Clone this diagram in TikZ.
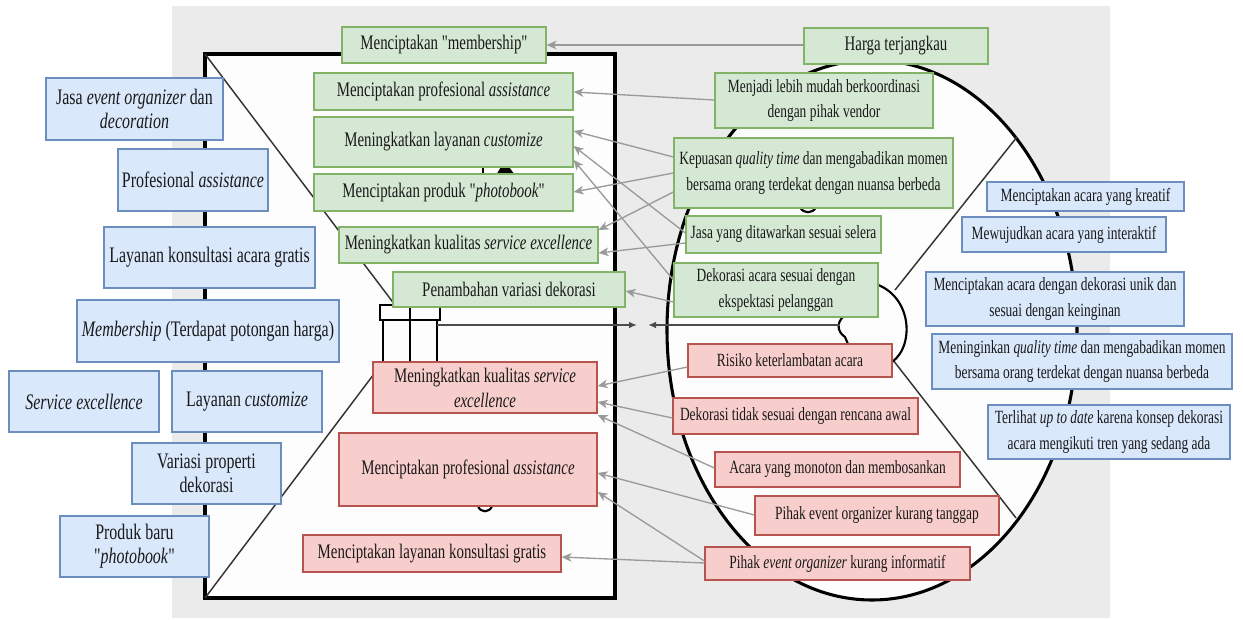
\documentclass[tikz,border=0pt]{standalone}
\usepackage{fontspec}
\setmainfont{Liberation Serif}[FakeStretch=0.72,Ligatures=TeXOff]
\usetikzlibrary{arrows.meta,fit}
\definecolor{bgc}{HTML}{EBEBEB}
\definecolor{paper}{HTML}{FDFDFD}
\definecolor{gfill}{HTML}{D5E8D4}\definecolor{gdraw}{HTML}{82B366}
\definecolor{bfill}{HTML}{DAE8FC}\definecolor{bdraw}{HTML}{6C8EBF}
\definecolor{rfill}{HTML}{F8CECC}\definecolor{rdraw}{HTML}{B85450}
\definecolor{arr}{HTML}{9A9A9A}
\newcommand\mkbox[6]{\node[#1,fit={#3 #4}] (#2) {};\node[tx,#5] at (#2.center) {#6};}
\begin{document}
\begin{tikzpicture}[x=0.75pt,y=-0.75pt,
  box/.style={inner sep=0pt,line width=0.9pt},
  gbox/.style={box,fill=gfill,draw=gdraw},
  bbox/.style={box,fill=bfill,draw=bdraw},
  rbox/.style={box,fill=rfill,draw=rdraw},
  tx/.style={align=center,inner sep=0pt,text=black!90},
  fA/.style={font=\fontsize{16.6}{18}\selectfont},
  fB/.style={font=\fontsize{15.5}{18.75}\selectfont},
  fC/.style={font=\fontsize{14}{19}\selectfont},
  ar/.style={draw=arr,line width=1pt,-{Stealth[length=7.5pt,width=6.5pt,inset=2.2pt]}},
  frame/.style={draw=black,line width=2.3pt,fill=paper},
  thin/.style={draw=black!80,line width=1.1pt},
  icon/.style={draw=black,line width=1.6pt},
  conn/.style={draw=black!70,line width=1.2pt,-{Latex[length=6pt,width=5pt]}}
]
\useasboundingbox (0,0) rectangle (1243,619);
\fill[bgc] (172,6) rectangle (1110,618);
% value map square
\draw[frame] (205,54) rectangle (615,598);
% customer profile ellipse
\draw[frame] (872,330) ellipse [x radius=153.75pt, y radius=202.5pt];
% diagonals
\draw[thin] (205,54) -- (395,305);
\draw[thin] (205,598) -- (383,362);
\draw[thin] (895,290) -- (1017,137);
\draw[thin] (893,360) -- (1016,518);
% face icon bits
\draw[icon] (868,282) .. controls (912,290) and (916,345) .. (892,362);
\draw[icon] (848,313) .. controls (836,320) and (836,331) .. (845,337) -- (848,344);
\draw[icon] (800,207) .. controls (803,214) and (813,214) .. (816,207);
\draw[icon] (478,506) .. controls (480,513) and (490,513) .. (492,506);
\draw[icon] (483,166) -- (483,175);
\fill[black] (496,175) -- (501,167) -- (509,167) -- (515,175) -- cycle;
% gift icon
\draw[icon] (380,305) rectangle (440,320);
\draw[icon] (383,320) -- (383,370);
\draw[icon] (410,305) -- (410,370);
\draw[icon] (437,320) -- (437,370);
% connector between maps
\coordinate (cL) at (437,325);
\coordinate (cM1) at (637,325);
\coordinate (cM2) at (648,325);
\coordinate (cR) at (840,325);
\draw[conn] (cL) -- (cM1);
\draw[conn] (cR) -- (cM2);

% ---- boxes ----
% green left
\mkbox{gbox}{gmem}{(342,27)}{(546,63)}{fB}{Menciptakan "membership"}
\mkbox{gbox}{gpro}{(314,73)}{(573,110)}{fB}{Menciptakan profesional \textit{assistance}}
\mkbox{gbox}{gcus}{(314,117)}{(573,167)}{fB}{Meningkatkan layanan \textit{customize}}
\mkbox{gbox}{gpho}{(314,174)}{(573,211)}{fB}{Menciptakan produk "\textit{photobook}"}
\mkbox{gbox}{gsrv}{(339,227)}{(598,263)}{fB}{Meningkatkan kualitas \textit{service excellence}}
\mkbox{gbox}{gvar}{(393,272)}{(625,307)}{fB}{Penambahan variasi dekorasi}
% green right
\mkbox{gbox}{ghar}{(804,28)}{(988,64)}{fB}{Harga terjangkau}
\mkbox{gbox}{gkoo}{(715,73)}{(933,128)}{fC}{Menjadi lebih mudah berkoordinasi\\dengan pihak vendor}
\mkbox{gbox}{gkep}{(674,138)}{(953,208)}{fC}{Kepuasan \textit{quality time} dan mengabadikan momen\\bersama orang terdekat dengan nuansa berbeda}
\mkbox{gbox}{gjas}{(686,216)}{(881,253)}{fC}{Jasa yang ditawarkan sesuai selera}
\mkbox{gbox}{gdek}{(674,263)}{(878,317)}{fC}{Dekorasi acara sesuai dengan\\ekspektasi pelanggan}
% blue left
\mkbox{bbox}{bjas}{(46,78)}{(223,140)}{fA}{Jasa \textit{event organizer} dan\\\textit{decoration}}
\mkbox{bbox}{bpro}{(118,149)}{(268,211)}{fA}{Profesional \textit{assistance}}
\mkbox{bbox}{bkon}{(104,227)}{(315,288)}{fA}{Layanan konsultasi acara gratis}
\mkbox{bbox}{bmem}{(77,300)}{(339,362)}{fA}{\textit{Membership} (Terdapat potongan harga)}
\mkbox{bbox}{bsrv}{(9,371)}{(159,432)}{fA}{\textit{Service excellence}}
\mkbox{bbox}{bcus}{(172,371)}{(322,432)}{fA}{Layanan \textit{customize}}
\mkbox{bbox}{bvar}{(132,443)}{(281,504)}{fA}{Variasi properti\\dekorasi}
\mkbox{bbox}{bpho}{(60,516)}{(209,577)}{fA}{Produk baru\\"\textit{photobook}"}
% blue right
\mkbox{bbox}{bkre}{(987,182)}{(1184,211)}{fC}{Menciptakan acara yang kreatif}
\mkbox{bbox}{bint}{(962,217)}{(1166,252)}{fC}{Mewujudkan acara yang interaktif}
\mkbox{bbox}{buni}{(926,272)}{(1184,326)}{fC}{Menciptakan acara dengan dekorasi unik dan\\sesuai dengan keinginan}
\mkbox{bbox}{bqua}{(932,334)}{(1232,389)}{fC}{Meninginkan \textit{quality time} dan mengabadikan momen\\bersama orang terdekat dengan nuansa berbeda}
\mkbox{bbox}{bupd}{(988,405)}{(1230,459)}{fC}{Terlihat \textit{up to date} karena konsep dekorasi\\acara mengikuti tren yang sedang ada}
% red left
\mkbox{rbox}{rsrv}{(373,362)}{(597,413)}{fB}{Meningkatkan kualitas \textit{service}\\\textit{excellence}}
\mkbox{rbox}{rpro}{(339,433)}{(597,506)}{fB}{Menciptakan profesional \textit{assistance}}
\mkbox{rbox}{rkon}{(303,535)}{(561,572)}{fB}{Menciptakan layanan konsultasi gratis}
% red right
\mkbox{rbox}{rris}{(688,344)}{(892,377)}{fC}{Risiko keterlambatan acara}
\mkbox{rbox}{rdek}{(673,398)}{(918,434)}{fC}{Dekorasi tidak sesuai dengan rencana awal}
\mkbox{rbox}{raca}{(715,452)}{(960,487)}{fC}{Acara yang monoton dan membosankan}
\mkbox{rbox}{rtan}{(755,496)}{(999,535)}{fC}{Pihak event organizer kurang tanggap}
\mkbox{rbox}{rinf}{(705,547)}{(970,580)}{fC}{Pihak \textit{event organizer} kurang informatif}

% ---- arrows ----
\draw[ar] (ghar.west |- 0,45) -- (gmem.east |- 0,45);
\draw[ar] (gkoo.west |- 0,100) -- (gpro.east |- 0,92);
\draw[ar] (gkep.west |- 0,157) -- (gcus.east |- 0,131);
\draw[ar] (gjas.west |- 0,233) -- (gcus.east |- 0,146);
\draw[ar] (gdek.west |- 0,280) -- (gcus.east |- 0,160);
\draw[ar] (gkep.west |- 0,173) -- (gpho.east |- 0,192);
\draw[ar] (gkep.west |- 0,192) -- (gsrv.east |- 0,230);
\draw[ar] (gjas.west |- 0,243) -- (gsrv.east |- 0,253);
\draw[ar] (gdek.west |- 0,302) -- (gvar.east |- 0,291);
\draw[ar] (rris.west |- 0,367) -- (rsrv.east |- 0,386);
\draw[ar] (rdek.west |- 0,418) -- (rsrv.east |- 0,402);
\draw[ar] (raca.west |- 0,468) -- (rsrv.east |- 0,415);
\draw[ar] (rtan.west |- 0,515) -- (rpro.east |- 0,473);
\draw[ar] (rinf.west |- 0,561) -- (rpro.east |- 0,492);
\draw[ar] (rinf.west |- 0,563) -- (rkon.east |- 0,557);
\end{tikzpicture}
\end{document}
